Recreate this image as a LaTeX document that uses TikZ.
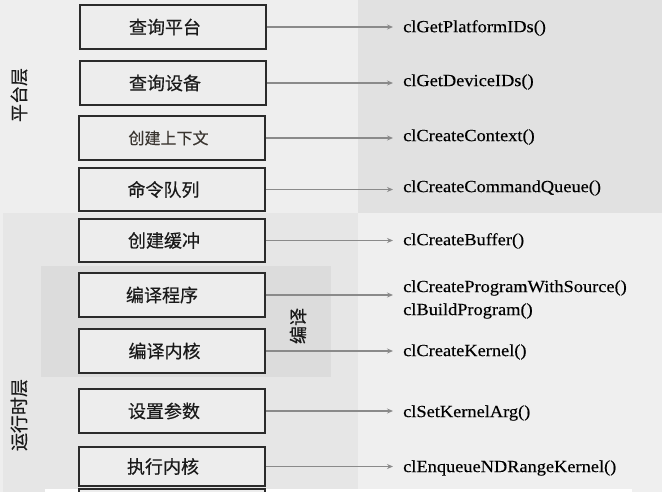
\documentclass[tikz,border=0pt]{standalone}
\usepackage{fontspec}
\usetikzlibrary{arrows.meta}
\newfontfamily\cjkfont[FakeBold=0.4]{Noto Sans CJK SC}
\newfontfamily\fnfont[FakeStretch=1.08,FakeBold=0.3]{Liberation Serif}
\definecolor{bgmain}{HTML}{EEEEEE}
\definecolor{bgtopright}{HTML}{E1E1E1}
\definecolor{bgrunleft}{HTML}{E6E6E6}
\definecolor{bgcompile}{HTML}{DCDCDC}
\definecolor{bgrunright}{HTML}{EFEFEF}
\definecolor{boxline}{HTML}{2B2B2B}
\definecolor{boxfill}{HTML}{EDEDED}
\definecolor{arrowgray}{HTML}{8A8A8A}
\definecolor{textdark}{HTML}{1A1A1A}
\definecolor{textsoft}{HTML}{3A3530}
\tikzset{
  stepbox/.style={draw=boxline, line width=1.6pt, fill=boxfill, minimum width=186pt, minimum height=44pt, inner sep=0pt, font=\cjkfont\fontsize{18}{20}\selectfont, text=textdark},
  lshift/.style={execute at end node={\hspace{#1}}},
  fnlabel/.style={anchor=west, inner xsep=10pt, inner ysep=2pt, font=\fnfont\fontsize{17}{23}\selectfont, text=black, align=left},
  sidelabel/.style={rotate=90, font=\cjkfont\fontsize{18}{20}\selectfont, text=textdark, inner sep=0pt},
  callarrow/.style={draw=arrowgray, line width=1.5pt, -{Stealth[length=6pt,width=5pt]}}
}
\begin{document}
\begin{tikzpicture}[x=1pt, y=-1pt]
\useasboundingbox (0,0) rectangle (662,492);
\clip (0,0) rectangle (662,492);
% backgrounds
\fill[bgmain] (0,0) rectangle (662,492);
\fill[bgtopright] (358,0) rectangle (662,213);
\fill[bgrunleft] (3,213) rectangle (358,492);
\fill[bgrunright] (358,213) rectangle (662,492);
\fill[bgcompile] (41,266) rectangle (331,377);
\fill[white] (45,489) rectangle (632,492);
% side labels
\node[sidelabel] (plat) at (19,95) {平台层};
\node[sidelabel] (run) at (19,415) {运行时层};
\node[sidelabel] (comp) at (298,326) {编译};
% step boxes
\node[stepbox, lshift=16pt] (b1) at (173,27) {查询平台};
\node[stepbox, lshift=16pt] (b2) at (173,83) {查询设备};
\node[stepbox, font=\cjkfont\fontsize{16}{19}\selectfont, text=textsoft, lshift=7pt] (b3) at (172,138) {创建上下文};
\node[stepbox, minimum height=43pt, lshift=17pt] (b4) at (172,189.5) {命令队列};
\node[stepbox, minimum height=43pt, lshift=16pt] (b5) at (172,240.5) {创建缓冲};
\node[stepbox, lshift=20pt] (b6) at (172,295) {编译程序};
\node[stepbox, lshift=15pt] (b7) at (172,351) {编译内核};
\node[stepbox, lshift=16pt] (b8) at (172,411) {设置参数};
\node[stepbox, minimum height=39pt, lshift=18pt] (b9) at (172,466.5) {执行内核};
\node[stepbox, minimum height=40pt] (b10) at (172,509) {};
% function labels
\node[fnlabel] (f1) at (393,28) {clGetPlatformIDs()};
\node[fnlabel] (f2) at (393,82) {clGetDeviceIDs()};
\node[fnlabel] (f3) at (393,137) {clCreateContext()};
\node[fnlabel] (f4) at (393,188) {clCreateCommandQueue()};
\node[fnlabel] (f5) at (393,241) {clCreateBuffer()};
\node[fnlabel] (f6) at (393,299.5) {clCreateProgramWithSource()\\clBuildProgram()};
\node[fnlabel] (f7) at (393,352) {clCreateKernel()};
\node[fnlabel] (f8) at (393,413) {clSetKernelArg()};
\node[fnlabel] (f9) at (393,468) {clEnqueueNDRangeKernel()};
% arrows
\foreach \i in {1,...,9} {
  \draw[callarrow] (b\i) -- (b\i -| f\i.west);
}
\end{tikzpicture}
\end{document}
